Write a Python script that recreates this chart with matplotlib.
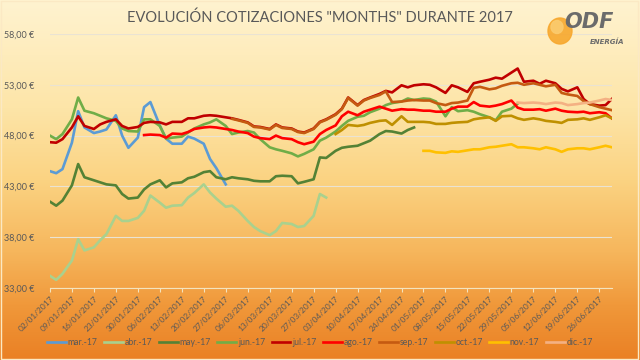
import numpy as np
import pandas as pd
import matplotlib
matplotlib.use("Agg")
import matplotlib.pyplot as plt
import matplotlib.dates as mdates
from matplotlib.ticker import FuncFormatter
from matplotlib.patches import Ellipse, Rectangle

plt.rcParams['font.family'] = ['Lato', 'DejaVu Sans']

# quotes read on Mon / Wed / Fri of every week, 02/01/2017 - 30/06/2017
mondays = pd.date_range('2017-01-02', '2017-06-26', freq='W-MON')
dates = sorted(list(mondays) + list(mondays + pd.Timedelta(days=2)) + list(mondays + pd.Timedelta(days=4)))

labels = ['mar.-17', 'abr.-17', 'may.-17', 'jun.-17', 'jul.-17',
          'ago.-17', 'sep.-17', 'oct.-17', 'nov.-17', 'dic.-17']
colors = ['#5B9BD5', '#A9D18E', '#548235', '#70AD47', '#C00000',
          '#FF0000', '#C55A11', '#BF9000', '#FFC000', '#F4B183']
starts = ['2017-01-02', '2017-01-02', '2017-01-02', '2017-01-02', '2017-01-02',
          '2017-02-01', '2017-03-01', '2017-04-03', '2017-05-01', '2017-05-31']

mar = [44.5, 44.3, 44.7, 47.3, 50.4, 48.8, 48.25, 48.4, 48.6, 50.0, 48.0, 46.8,
       47.8, 50.8, 51.3, 49.0, 47.7, 47.2, 47.2, 47.9, 47.7, 47.2, 45.7, 44.8, 43.2]
abr = [34.2, 33.8, 34.4, 35.7, 37.8, 36.7, 37.0, 37.7, 38.3, 40.1, 39.6, 39.6,
       39.9, 40.6, 42.1, 41.4, 40.9, 41.1, 41.15, 41.9, 42.35, 43.2, 42.4, 41.8,
       41.0, 41.1, 40.6, 39.6, 39.0, 38.6, 38.2, 38.6, 39.4, 39.3, 39.0, 39.1,
       40.1, 42.25, 41.9]
may = [41.5, 41.1, 41.6, 43.1, 45.2, 43.9, 43.6, 43.4, 43.2, 43.1, 42.25, 41.8,
       41.9, 42.7, 43.2, 43.6, 42.9, 43.3, 43.4, 43.8, 43.95, 44.4, 44.5, 43.9,
       43.7, 43.9, 43.8, 43.7, 43.55, 43.5, 43.5, 44.0, 44.05, 44.0, 43.3, 43.45,
       43.7, 45.85, 45.8, 46.5, 46.8, 46.9, 47.0, 47.25, 47.5, 48.15, 48.45, 48.4,
       48.2, 48.55, 48.8]
jun = [48.0, 47.65, 48.15, 49.6, 51.75, 50.45, 50.2, 49.95, 49.7, 49.45, 48.7, 48.45,
       48.4, 49.6, 49.6, 48.95, 47.7, 47.8, 47.9, 48.3, 48.7, 49.1, 49.3, 49.6,
       48.95, 48.15, 48.3, 48.45, 48.3, 47.65, 46.85, 46.65, 46.5, 46.25, 45.95, 46.2,
       46.65, 47.5, 47.8, 48.4, 48.95, 49.45, 49.85, 49.95, 50.3, 50.65, 51.0, 51.2,
       51.35, 51.65, 51.5, 51.65, 51.6, 51.35, 49.9, 50.8, 50.4, 50.5, 50.35, 50.1,
       49.8, 49.5, 50.35, 50.65, 51.15]
jul = [47.35, 47.3, 47.65, 48.8, 49.9, 48.95, 48.65, 49.1, 49.35, 49.6, 48.95, 48.7,
       48.85, 49.25, 49.35, 49.3, 49.1, 49.35, 49.35, 49.7, 49.7, 49.95, 50.0, 49.95,
       49.8, 49.7, 49.55, 49.3, 48.9, 48.85, 48.65, 49.1, 48.8, 48.7, 48.4, 48.3,
       48.7, 49.35, 49.6, 50.1, 50.65, 51.75, 51.0, 51.5, 51.75, 52.1, 52.4, 52.25,
       52.95, 52.75, 52.95, 53.05, 53.0, 52.75, 52.2, 52.95, 52.75, 52.3, 53.15, 53.3,
       53.5, 53.7, 53.6, 54.2, 54.6, 53.3, 53.4, 53.1, 53.4, 53.15, 52.6, 52.35,
       52.75, 51.6, 51.1, 50.95, 51.0, 51.6]
ago = [48.05, 48.1, 48.05, 47.8, 48.2, 48.15, 48.35, 48.65, 48.8, 48.85, 48.8,
       48.65, 48.55, 48.4, 48.25, 47.9, 47.75, 47.65, 48.0, 47.75, 47.65, 47.35, 47.15,
       47.4, 48.15, 48.55, 49.0, 49.9, 50.35, 50.0, 50.35, 50.55, 50.85, 50.65, 50.45,
       50.6, 50.55, 50.55, 50.45, 50.45, 50.35, 50.35, 50.65, 50.85, 50.85, 51.3, 50.95,
       50.85, 50.95, 51.1, 51.45, 50.75, 50.55, 50.55, 50.6, 50.45, 50.65, 50.45, 50.35,
       50.3, 50.35, 50.2, 50.3, 50.2, 49.7]
sep = [49.65, 49.5, 49.25, 48.85, 48.8, 48.6, 49.05, 48.75, 48.65, 48.35, 48.25,
       48.65, 49.3, 49.55, 50.05, 50.6, 51.7, 50.95, 51.45, 51.7, 52.0, 52.35, 51.3,
       51.35, 51.45, 51.5, 51.45, 51.45, 51.2, 51.0, 51.2, 51.25, 51.45, 52.7, 52.8,
       52.55, 52.65, 52.9, 53.15, 53.2, 53.0, 53.15, 53.0, 52.85, 53.0, 52.2, 52.05,
       51.9, 51.4, 51.1, 50.8, 50.65, 50.5]
oct_ = [48.15, 48.55, 49.05, 48.95, 49.05, 49.25, 49.45, 49.5, 49.05, 49.9, 49.35, 49.35,
        49.35, 49.3, 49.15, 49.15, 49.25, 49.3, 49.35, 49.6, 49.7, 49.8, 49.45, 49.9,
        49.95, 49.7, 49.55, 49.7, 49.6, 49.45, 49.35, 49.25, 49.55, 49.6, 49.7, 49.55,
        49.8, 50.0, 49.7]
nov = [46.5, 46.5, 46.35, 46.3, 46.45, 46.4, 46.55, 46.65, 46.65, 46.85, 46.9, 47.0,
       47.15, 46.85, 46.85, 46.75, 46.65, 46.85, 46.65, 46.4, 46.65, 46.75, 46.75, 46.65,
       46.85, 47.0, 46.85]
dic = [51.25, 51.2, 51.25, 51.2, 51.1, 51.25, 51.2, 51.0, 51.1, 51.2, 51.25,
       51.45, 51.6, 51.5]

series = [mar, abr, may, jun, jul, ago, sep, oct_, nov, dic]
yticks = [33, 38, 43, 48, 53, 58]

fig = plt.figure(figsize=(6.4, 3.6), dpi=100)

# background gradient (pale yellow to orange)
stops = [(0.0, (255, 243, 208)), (0.3, (253, 229, 168)), (0.5, (251, 211, 130)),
         (0.7, (246, 182, 92)), (0.85, (240, 152, 58)), (1.0, (234, 128, 36))]
pos = np.linspace(0, 1, 256)
grad = np.zeros((256, 1, 3))
for c in range(3):
    grad[:, 0, c] = np.interp(pos, [s[0] for s in stops], [s[1][c] / 255 for s in stops])
bg = fig.add_axes([0, 0, 1, 1], zorder=-1)
bg.imshow(grad, aspect='auto', extent=[0, 1, 0, 1])
bg.axis('off')
bg.add_patch(Rectangle((0.002, 0.003), 0.995, 0.994, fill=False, ec='#FBE9C4', lw=1))

ax = fig.add_axes([0.078, 0.2, 0.878, 0.7056])
ax.patch.set_alpha(0)

for name, col, st, vals in zip(labels, colors, starts, series):
    i0 = dates.index(pd.Timestamp(st))
    ax.plot(dates[i0:i0 + len(vals)], vals, color=col, lw=1.9, label=name)

ax.set_ylim(33, 58)
ax.set_xlim(pd.Timestamp('2017-01-02'), pd.Timestamp('2017-06-30'))
ax.set_yticks(yticks)
ax.yaxis.set_major_formatter(FuncFormatter(lambda v, p: f"{v:.2f}".replace('.', ',') + " €"))
ax.set_xticks(mondays)
ax.xaxis.set_major_formatter(mdates.DateFormatter('%d/%m/%Y'))
ax.grid(axis='y', color='#EAE3D3', lw=0.8)
ax.set_axisbelow(True)
for s in ['top', 'right', 'left']:
    ax.spines[s].set_visible(False)
ax.spines['bottom'].set_color('#F3E3BE')
ax.tick_params(axis='y', length=0, pad=11, labelsize=6.5, labelcolor='#595959')
ax.tick_params(axis='x', length=3, color='#F3E3BE', labelsize=6, labelcolor='#595959', pad=2)
for lab in ax.get_xticklabels():
    lab.set_rotation(45)
    lab.set_ha('right')
    lab.set_rotation_mode('anchor')

fig.text(0.5, 0.95, 'EVOLUCIÓN COTIZACIONES "MONTHS" DURANTE 2017', ha='center', va='center',
         fontsize=10.5, color='#595959')

leg = fig.legend(loc='lower center', bbox_to_anchor=(0.5, 0.02), ncol=10, frameon=False,
                 fontsize=6.2, handlelength=2.2, columnspacing=0.75, handletextpad=0.2,
                 borderpad=0.2)
for t in leg.get_texts():
    t.set_color('#595959')

# logo
logo = fig.add_axes([0, 0, 1, 1], zorder=3)
logo.axis('off')
logo.set_xlim(0, 640)
logo.set_ylim(360, 0)
logo.add_patch(Ellipse((560, 31), 24, 26, color='#F7A82E', alpha=0.9))
logo.add_patch(Ellipse((557, 27), 12, 13, color='#FBCB6E', alpha=0.9))
logo.text(589, 22, 'ODF', fontsize=15, fontweight='bold', style='italic', color='#6B6B6B',
          ha='center', va='center', family='DejaVu Sans')
logo.text(607, 42, 'ENERGÍA', fontsize=5, fontweight='bold', style='italic', color='#6B6B6B',
          ha='center', va='center', family='DejaVu Sans')

plt.savefig('out.png', dpi=100)
